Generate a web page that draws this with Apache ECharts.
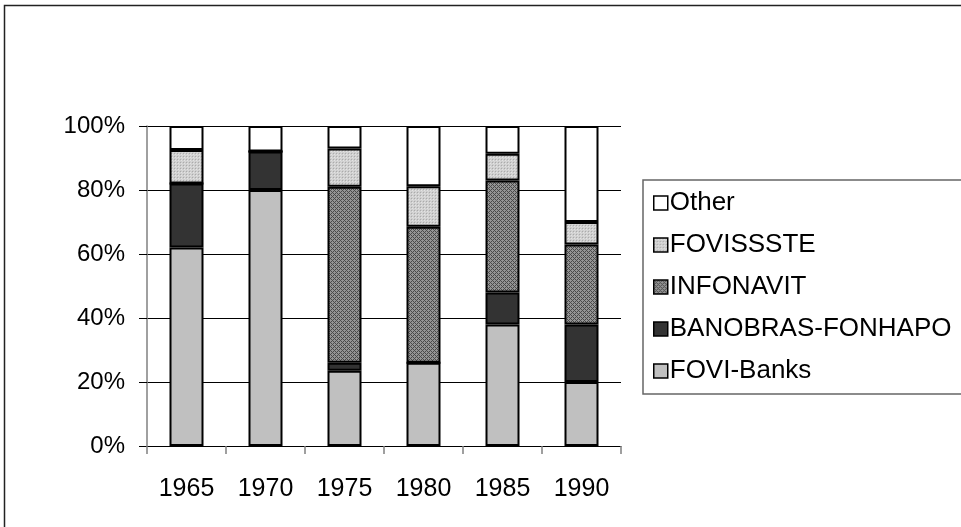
<!DOCTYPE html>
<html>
<head>
<meta charset="utf-8">
<script src="https://cdn.jsdelivr.net/npm/echarts@6/dist/echarts.min.js"></script>
<style>
html,body{margin:0;padding:0;background:#fff;}
#chart{width:961px;height:527px;}
</style>
</head>
<body>
<div id="chart"></div>
<script>
// ---- data ----
var categories = ['1965', '1970', '1975', '1980', '1985', '1990'];
var foviBanks = [62, 80, 23.5, 26, 38, 20];
var banobras  = [20, 12, 2.5, 0, 10, 18];
var infonavit = [0, 0, 55, 42.5, 35, 25];
var fovissste = [10.5, 0, 12, 12.7, 8.3, 7];
var other     = [7.5, 8, 7, 18.8, 8.7, 30];
var seriesNames = ['FOVI-Banks', 'BANOBRAS-FONHAPO', 'INFONAVIT', 'FOVISSSTE', 'Other'];

// ---- fill patterns ----
function makePattern(size, base, dots) {
  var c = document.createElement('canvas');
  c.width = size; c.height = size;
  var ctx = c.getContext('2d');
  ctx.fillStyle = base; ctx.fillRect(0, 0, size, size);
  dots.forEach(function (d) { ctx.fillStyle = d[2]; ctx.fillRect(d[0], d[1], 1, 1); });
  return { image: c, repeat: 'repeat' };
}
var hatchDots = [];
for (var x = 0; x < 4; x++) for (var y = 0; y < 4; y++) {
  if ((x + y) % 4 === 0 || ((x - y + 4) % 4) === 0) hatchDots.push([x, y, '#4a4a4a']);
}
var infonavitFill = makePattern(4, '#949494', hatchDots);
var fovisssteFill = makePattern(3, '#cecece', [[0, 0, '#ababab'], [1, 1, '#e4e4e4'], [2, 2, '#dadada']]);

var fills = ['#c0c0c0', '#333333', infonavitFill, fovisssteFill, '#ffffff'];
var datasets = [foviBanks, banobras, infonavit, fovissste, other];

var chart = echarts.init(document.getElementById('chart'));
var series = seriesNames.map(function (n, i) {
  return {
    name: n,
    type: 'bar',
    stack: 'total',
    barWidth: 34,
    data: datasets[i],
    itemStyle: { color: fills[i], borderColor: '#000', borderWidth: 2 },
    emphasis: { disabled: true }
  };
});

chart.setOption({
  animation: false,
  backgroundColor: '#fff',
  textStyle: { fontFamily: 'Liberation Sans, Arial, sans-serif' },
  graphic: [{
    type: 'rect',
    shape: { x: 4.5, y: 5.5, width: 1100, height: 700 },
    style: { fill: 'none', stroke: '#222', lineWidth: 1.5 },
    z: -10
  }],
  grid: { left: 147, right: 340, top: 126, bottom: 81 },
  legend: {
    data: seriesNames.slice().reverse(),
    orient: 'vertical',
    left: 643,
    top: 180,
    padding: [10, 200, 10, 10],
    backgroundColor: '#fff',
    borderColor: '#666',
    borderWidth: 1.5,
    itemWidth: 14,
    itemHeight: 14,
    itemGap: 16,
    icon: 'rect',
    itemStyle: { borderColor: '#000', borderWidth: 1.5 },
    textStyle: { fontSize: 26, color: '#000', lineHeight: 26, padding: [0, 0, 0, -3] }
  },
  xAxis: {
    type: 'category',
    data: categories,
    axisLine: { lineStyle: { color: '#000', width: 1 } },
    axisTick: { show: true, length: 8, lineStyle: { color: '#808080', width: 1.5 } },
    axisLabel: { fontSize: 25, color: '#000', margin: 31 }
  },
  yAxis: {
    type: 'value',
    min: 0,
    max: 100,
    interval: 20,
    axisLine: { show: true, lineStyle: { color: '#808080', width: 1.5 } },
    axisTick: { show: true, length: 8, lineStyle: { color: '#000' } },
    axisLabel: { fontSize: 24, color: '#000', margin: 22, formatter: '{value}%' },
    splitLine: { show: true, lineStyle: { color: '#000', width: 1 } }
  },
  series: series
});
</script>
</body>
</html>
